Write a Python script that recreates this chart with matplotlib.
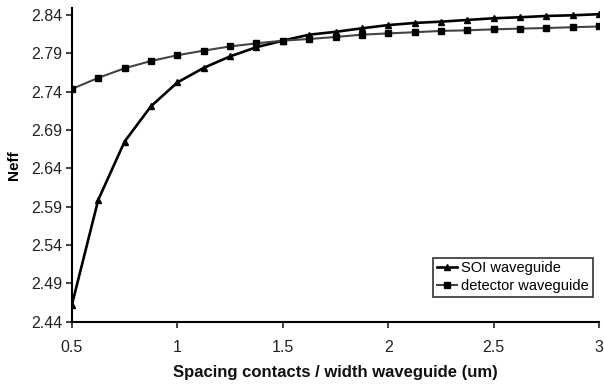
import matplotlib.pyplot as plt
import numpy as np

plt.rcParams['font.family'] = ['Liberation Sans', 'DejaVu Sans']

spacing = [0.5, 0.625, 0.75, 0.875, 1.0, 1.125, 1.25, 1.375, 1.5, 1.625, 1.75,
           1.875, 2.0, 2.125, 2.25, 2.375, 2.5, 2.625, 2.75, 2.875, 3.0]
soi = [2.462, 2.599, 2.675, 2.721, 2.752, 2.771, 2.786, 2.798, 2.8065, 2.8143, 2.818,
       2.8226, 2.8268, 2.8296, 2.8313, 2.8335, 2.8357, 2.837, 2.8387, 2.8396, 2.841]
detector = [2.7435, 2.758, 2.7705, 2.780, 2.7875, 2.7935, 2.799, 2.803, 2.8065, 2.8087, 2.8113,
            2.8143, 2.816, 2.8175, 2.8192, 2.820, 2.8213, 2.8222, 2.823, 2.824, 2.825]
yticks = [2.44, 2.49, 2.54, 2.59, 2.64, 2.69, 2.74, 2.79, 2.84]
xticks = [0.5, 1, 1.5, 2, 2.5, 3]

fig = plt.figure(figsize=(6.04, 3.84), dpi=100)
ax = fig.add_axes([0.119, 0.162, 0.873, 0.817])

ax.plot(spacing, soi, color='black', lw=1.9, marker='^', ms=4, label='SOI waveguide')
ax.plot(spacing, detector, color='#444444', lw=1.5, marker='s', ms=4.5,
        markerfacecolor='black', markeredgecolor='black', label='detector waveguide')

ax.set_xlim(0.5, 3)
ax.set_ylim(2.44, 2.849)
ax.set_xticks(xticks)
ax.set_xticklabels(['0.5', '1', '1.5', '2', '2.5', '3'])
ax.set_yticks(yticks)
ax.set_yticklabels(['%.2f' % v for v in yticks])
ax.tick_params(direction='out', length=4, width=1.2, labelsize=11.5, colors='#222222')
ax.tick_params(axis='x', pad=9)
ax.tick_params(axis='y', pad=3)
ax.spines['top'].set_visible(False)
ax.spines['right'].set_visible(False)
for s in ['left', 'bottom']:
    ax.spines[s].set_linewidth(1.5)

ax.set_ylabel('Neff', fontsize=11, fontweight='bold', labelpad=7)
ax.set_xlabel('Spacing contacts / width waveguide (um)', fontsize=12, fontweight='bold',
              labelpad=7, color='#111111')

leg = ax.legend(loc='lower right', bbox_to_anchor=(0.988, 0.08), fontsize=10.5,
                frameon=True, fancybox=False, handlelength=1.4, handletextpad=0.3,
                borderpad=0.25, labelspacing=0.25, borderaxespad=0)
leg.get_frame().set_edgecolor('black')
leg.get_frame().set_linewidth(1.2)

fig.savefig('out.png', dpi=100)
